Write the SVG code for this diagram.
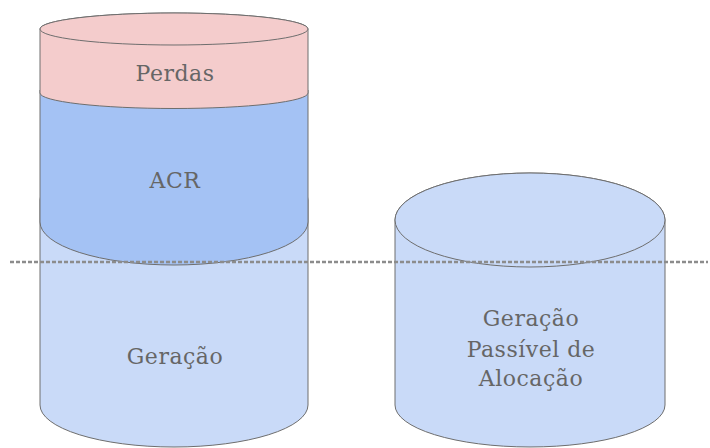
<svg xmlns="http://www.w3.org/2000/svg" width="710" height="448" viewBox="0 0 710 448">
  <style>
    .edge { stroke: #6e6e6e; stroke-width: 1; }
    .gen { fill: #c9daf8; }
    .acr { fill: #a4c2f4; }
    .loss { fill: #f4cccc; }
    .label { font-family: "DejaVu Serif", "Liberation Serif", serif; font-size: 22px; fill: #666666; text-anchor: middle; letter-spacing: 0.5px; }
    .guide { stroke: #8c8c8c; stroke-width: 2.5; stroke-dasharray: 4 2; fill: none; }
  </style>
  <rect width="710" height="448" fill="#ffffff"/>

  <!-- Left stack: generation base -->
  <g id="geracao">
    <path class="gen edge" d="M40 200 L40 405 A134 42 0 0 0 308 405 L308 200 A134 42 0 0 0 40 200 Z"/>
    <text class="label" x="175" y="364">Geração</text>
  </g>

  <!-- Left stack: ACR band -->
  <g id="acr">
    <path class="acr" d="M40 90 L40 222 A134 43 0 0 0 308 222 L308 90 Z"/>
    <path class="edge" fill="none" d="M40 90 L40 222 A134 43 0 0 0 308 222 L308 90"/>
    <text class="label" x="175" y="188">ACR</text>
  </g>

  <!-- Left stack: losses on top -->
  <g id="perdas">
    <path class="loss edge" d="M40 29 L40 93 A134 15.5 0 0 0 308 93 L308 29 A134 16 0 0 0 40 29 Z"/>
    <ellipse class="loss edge" cx="174" cy="29" rx="134" ry="16"/>
    <text class="label" x="175" y="81">Perdas</text>
  </g>

  <!-- Right cylinder -->
  <g id="geracao-alocacao">
    <path class="gen edge" d="M395 220 L395 405 A135 42 0 0 0 665 405 L665 220 A135 47 0 0 0 395 220 Z"/>
    <ellipse class="gen edge" cx="530" cy="220" rx="135" ry="47"/>
    <text class="label" x="531" y="326">Geração</text>
    <text class="label" x="531" y="357">Passível de</text>
    <text class="label" x="531" y="386">Alocação</text>
  </g>

  <!-- Reference level line -->
  <g id="connectors">
    <line class="guide" x1="10" y1="262" x2="708" y2="262"/>
  </g>
</svg>
